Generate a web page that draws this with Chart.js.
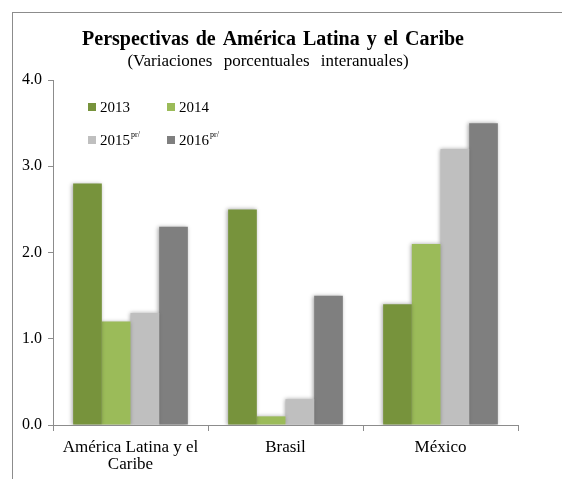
<!DOCTYPE html>
<html><head><meta charset="utf-8">
<script src="https://cdn.jsdelivr.net/npm/chart.js@4"></script>
<style>html,body{margin:0;padding:0;background:#fff;}#wrap{width:562px;height:479px;position:relative;}
#frame{position:absolute;left:12px;top:12px;width:600px;height:520px;border:1px solid #8c8c8c;box-sizing:border-box;}
</style></head>
<body><div id="wrap"><div id="frame"></div><canvas id="c" width="562" height="479" style="position:absolute;left:0;top:0"></canvas></div>
<script>
const categories = [["América Latina y el", "Caribe"], "Brasil", "México"];
const seriesNames = ["2013", "2014", "2015", "2016"];
const seriesSup = ["", "", "pr/", "pr/"];
const v2013 = [2.8, 2.5, 1.4];
const v2014 = [1.2, 0.1, 2.1];
const v2015 = [1.3, 0.3, 3.2];
const v2016 = [2.3, 1.5, 3.5];
const yTicks = [0, 1, 2, 3, 4];
const titleText = "Perspectivas de América Latina y el Caribe";
const subtitleText = "(Variaciones porcentuales interanuales)";
const colors = ["#77933C", "#9BBB59", "#BFBFBF", "#7F7F7F"];
const serif = "'Liberation Serif', 'Times New Roman', serif";

const seriesValues = [v2013, v2014, v2015, v2016];
const datasets = seriesNames.map((n, i) => ({
  label: n, sup: seriesSup[i], data: seriesValues[i], backgroundColor: colors[i],
  borderWidth: 0, categoryPercentage: 0.74, barPercentage: 1.0
}));

const deco = {
  id: 'deco',
  beforeDatasetsDraw(chart) {
    const ctx = chart.ctx; ctx.save();
    ctx.shadowColor = 'rgba(0,0,0,0.35)'; ctx.shadowBlur = 4; ctx.shadowOffsetX = -1; ctx.shadowOffsetY = 0;
  },
  afterDatasetsDraw(chart) { chart.ctx.restore(); },
  afterDraw(chart) {
    const ctx = chart.ctx; ctx.save();
    ctx.fillStyle = '#000'; ctx.textAlign = 'center'; ctx.textBaseline = 'alphabetic';
    ctx.font = "bold 20px " + serif; ctx.wordSpacing = '2px'; ctx.fillText(titleText, 273, 45);
    ctx.font = "17px " + serif; ctx.wordSpacing = '7px'; ctx.fillText(subtitleText, 268, 66);
    ctx.wordSpacing = '0px';
    // legend
    const pos = [[88, 107], [167, 107], [88, 140], [167, 140]];
    chart.data.datasets.forEach((ds, i) => {
      const [x, y] = pos[i];
      ctx.fillStyle = ds.backgroundColor; ctx.fillRect(x, y - 4, 8, 8);
      ctx.fillStyle = '#000'; ctx.textAlign = 'left'; ctx.textBaseline = 'middle';
      ctx.font = "15px " + serif; ctx.fillText(ds.label, x + 12, y + 1);
      if (ds.sup) {
        const w = ctx.measureText(ds.label).width;
        ctx.font = "8px " + serif; ctx.fillText(ds.sup, x + 13 + w, y - 5);
      }
    });
    ctx.restore();
  }
};

new Chart(document.getElementById('c'), {
  type: 'bar',
  data: { labels: categories, datasets },
  options: {
    responsive: false, animation: false,
    layout: { padding: { top: 80, right: 44, left: 0, bottom: 0 } },
    plugins: { legend: { display: false }, tooltip: { enabled: false }, title: { display: false } },
    scales: {
      x: {
        grid: { display: true, drawOnChartArea: false, tickLength: 6, color: '#8c8c8c', offset: true },
        border: { display: true, color: '#8c8c8c', width: 1 },
        ticks: { color: '#000', font: { family: serif, size: 17, lineHeight: 1.0 }, padding: 8, maxRotation: 0, autoSkip: false },
        afterFit(s) { s.height = 54; }
      },
      y: {
        min: 0, max: 4,
        afterBuildTicks(s) { s.ticks = yTicks.map(v => ({ value: v })); },
        grid: { display: true, drawOnChartArea: false, tickLength: 5, color: '#8c8c8c' },
        border: { display: true, color: '#8c8c8c', width: 1 },
        ticks: { color: '#000', font: { family: serif, size: 16 }, padding: 6, callback: v => Number(v).toFixed(1) },
        afterFit(s) { s.width = 53; }
      }
    }
  },
  plugins: [deco]
});
</script></body></html>
